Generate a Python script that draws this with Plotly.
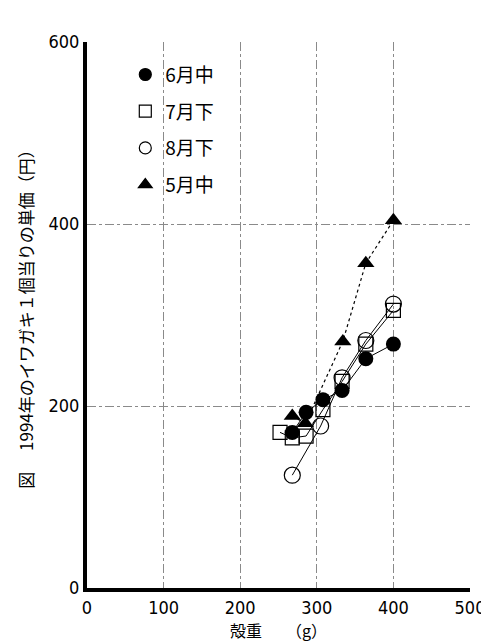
import plotly.graph_objects as go

# 6月中 (filled circle)
x_jun = [268, 286, 308, 333, 364, 400]
y_jun = [171, 193, 207, 217, 252, 268]
# 7月下 (open square)
x_jul = [252, 268, 286, 308, 333, 364, 400]
y_jul = [171, 165, 167, 196, 227, 268, 305]
# 8月下 (open circle)
x_aug = [268, 305, 333, 364, 400]
y_aug = [124, 178, 231, 272, 312]
# 5月中 (filled triangle)
x_may = [268, 285, 334, 364, 400]
y_may = [189, 181, 271, 357, 404]

series_names = ["6月中", "7月下", "8月下", "5月中"]
x_ticks = [0, 100, 200, 300, 400, 500]
y_ticks = [0, 200, 400, 600]

fig = go.Figure()

fig.add_trace(go.Scatter(x=x_may, y=y_may, mode="lines+markers", showlegend=False,
                         line=dict(color="black", width=1.2, dash="dot"),
                         marker=dict(symbol="triangle-up", size=15, color="black")))
fig.add_trace(go.Scatter(x=x_aug, y=y_aug, mode="lines+markers", showlegend=False,
                         line=dict(color="black", width=1),
                         marker=dict(symbol="circle-open", size=16, color="black",
                                     line=dict(width=1.2))))
fig.add_trace(go.Scatter(x=x_jul, y=y_jul, mode="lines+markers", showlegend=False,
                         line=dict(color="black", width=1),
                         marker=dict(symbol="square-open", size=14, color="black",
                                     line=dict(width=1.2))))
fig.add_trace(go.Scatter(x=x_jun, y=y_jun, mode="lines+markers", showlegend=False,
                         line=dict(color="black", width=1),
                         marker=dict(symbol="circle", size=15, color="black")))

legend_symbols = ["circle", "square-open", "circle-open", "triangle-up"]
for i, (nm, sym) in enumerate(zip(series_names, legend_symbols)):
    fig.add_trace(go.Scatter(x=[None], y=[None], mode="markers", name=nm,
                             legendgroup=f"g{i}",
                             marker=dict(symbol=sym, size=12, color="black",
                                         line=dict(width=1.2, color="black"))))

tick_font = dict(family="DejaVu Sans Condensed, Liberation Sans Narrow, sans-serif",
                 size=18, color="black")

fig.update_layout(
    width=489, height=644,
    margin=dict(l=79, r=20, t=34, b=64),
    paper_bgcolor="white", plot_bgcolor="white",
    showlegend=True,
    legend=dict(x=0.10, y=0.975, xanchor="left", yanchor="top",
                font=dict(family="Noto Sans CJK JP", size=19, color="black"),
                bgcolor="rgba(0,0,0,0)", tracegroupgap=9, itemwidth=30),
    xaxis=dict(range=[0, 500], tickvals=x_ticks, ticktext=[str(v) for v in x_ticks],
               showline=True, linecolor="black", linewidth=4,
               showgrid=True, gridcolor="#8a8a8a", gridwidth=1, griddash="dashdot",
               zeroline=False, ticks="", tickfont=tick_font,
               title=dict(text="殻重　　（g）", standoff=0,
                          font=dict(family="Noto Sans CJK JP", size=16, color="black"))),
    yaxis=dict(range=[0, 600], tickvals=y_ticks, ticktext=[str(v) for v in y_ticks],
               showline=True, linecolor="black", linewidth=4,
               showgrid=True, gridcolor="#8a8a8a", gridwidth=1, griddash="dashdot",
               zeroline=False, ticks="", tickfont=tick_font,
               title=dict(text="図　 1994年のイワガキ１個当りの単価（円）", standoff=12,
                          font=dict(family="Noto Sans CJK JP", size=17, color="black"))),
)

fig.write_html("out.html")
